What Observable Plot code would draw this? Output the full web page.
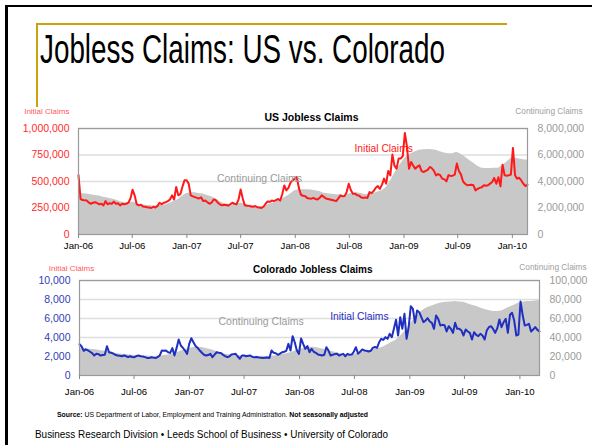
<!DOCTYPE html>
<html><head><meta charset="utf-8">
<script src="https://cdn.jsdelivr.net/npm/d3@7"></script>
<script src="https://cdn.jsdelivr.net/npm/@observablehq/plot@0.6"></script>
<style>
html,body{margin:0;padding:0;background:#fff;}
#page{position:relative;width:592px;height:445px;overflow:hidden;background:#fff;font-family:"Liberation Sans",Arial,sans-serif;}
.abs{position:absolute;white-space:nowrap;transform-origin:0 0;}
</style></head><body>
<div id="page">
  <div class="abs" style="left:5px;top:5px;width:3px;height:440px;background:#000"></div>
  <div class="abs" style="left:5px;top:5px;width:587px;height:2px;background:#000"></div>
  <div class="abs" style="left:36px;top:23px;width:471px;height:2px;background:#c9a20e"></div>
  <div class="abs" style="left:36px;top:23px;width:2px;height:84px;background:#c9a20e"></div>
  <div id="title" class="abs fit" data-w="405" style="left:40px;top:29px;font-size:40px;line-height:40px;color:#000;">Jobless Claims: US vs. Colorado</div>
  <div id="us" class="abs" style="left:0;top:100px"></div>
  <div id="co" class="abs" style="left:0;top:258px"></div>
  <div id="src" class="abs fit" data-w="311" style="left:57px;top:410px;font-size:8px;line-height:10px;color:#000;"><b>Source:</b> US Department of Labor, Employment and Training Administration. <b>Not seasonally adjusted</b></div>
  <div id="foot" class="abs fit" data-w="353" style="left:35px;top:427px;font-size:11px;line-height:14px;color:#000;">Business Research Division • Leeds School of Business • University of Colorado</div>
</div>
<script>
// ---- data (weekly from the week of 1 Jan 2006) ----
const usInitialThousands = [
558,335,325,322,320,300,290,300,305,295,
285,290,275,315,285,295,290,310,290,295,
275,290,285,290,300,340,423,370,285,275,
280,265,262,258,255,250,262,255,270,300,
285,300,305,315,330,369,330,448,370,380,
450,511,511,480,369,360,353,345,340,350,
315,320,305,290,300,331,325,300,285,275,
280,278,272,285,300,290,285,330,425,340,
275,272,270,265,262,268,258,255,250,262,
290,312,308,320,315,325,335,320,380,463,
416,440,489,510,527,542,440,375,365,362,
345,340,338,345,335,331,345,369,355,340,
335,330,325,320,315,340,369,360,362,400,
479,420,385,385,372,365,350,345,350,345,
400,390,410,440,457,430,470,527,480,600,
558,754,650,621,716,716,740,958,830,621,
684,650,621,640,653,600,589,600,610,637,
625,600,558,570,560,527,520,501,560,553,
555,565,669,600,565,500,479,465,468,470,
464,416,430,440,445,464,460,464,480,495,
533,479,540,454,659,558,555,558,565,817,
560,527,535,510,479,457,470];
// every second week, millions
const usContinuingMillions = [
3.05,3.07,3.05,3.0,2.95,2.9,2.82,2.75,2.68,2.6,
2.5,2.4,2.38,2.45,2.35,2.25,2.2,2.18,2.15,2.15,
2.2,2.25,2.35,2.5,2.65,2.9,3.1,3.15,3.15,3.1,
3.05,2.95,2.85,2.7,2.5,2.33,2.28,2.25,2.3,2.38,
2.3,2.22,2.18,2.12,2.08,2.15,2.3,2.39,2.55,2.7,
2.85,3.05,3.3,3.38,3.38,3.37,3.35,3.3,3.25,3.12,
3.07,3.03,3.0,2.98,2.94,3.05,3.12,3.15,3.1,3.0,
3.05,3.1,3.2,3.3,3.55,4.0,4.6,5.1,5.55,5.9,
6.1,6.25,6.35,6.4,6.42,6.4,6.35,6.25,6.15,6.1,
6.1,6.2,6.05,5.85,5.6,5.4,5.15,5.0,4.98,4.98,
5.0,5.0,5.2,5.45,5.75,5.75,5.7,5.65,5.6];
const coInitial = [
3300,3050,2600,2750,2650,2500,2350,2100,2280,2250,
2100,2150,2180,3090,2450,2400,2300,2180,2100,2080,
2030,2100,2050,1930,2030,1950,1930,2050,2100,2030,
2000,1930,1850,1830,1930,1880,1830,1930,2100,2630,
2600,2630,2450,2380,2880,2100,2880,3790,3160,2900,
2630,2280,3330,3930,3500,3100,2900,2630,2400,2180,
2100,2150,2280,1930,2200,2450,2400,2380,2180,2050,
1930,2000,2200,2250,2280,2000,1760,2100,2100,2030,
2080,2100,1950,1930,1940,1900,1880,1850,1880,1900,
1850,2630,2390,2350,2180,2300,2450,2500,2600,3330,
2630,4140,3500,2630,2280,3900,3330,2800,3090,2460,
2800,2500,2390,2200,2150,2100,2180,2980,2630,2100,
2180,2250,2280,2100,2200,2280,2030,2280,2180,2200,
2500,2980,2300,2500,2740,2630,2600,2530,2600,2900,
3000,2900,3500,3860,3750,4035,3860,4386,4035,4912,
5860,4211,6140,4912,6491,3860,5088,7298,7018,5544,
6842,6667,6140,5614,5789,6035,5684,5544,4912,6316,
5965,5263,5333,5300,4632,5193,4912,4491,5544,4912,
4912,4737,4211,4842,4632,4491,3789,4561,4281,4140,
4386,4211,3789,4737,5088,5193,4900,4491,4982,5895,
5088,5614,5965,4491,6386,6596,5789,4211,4300,7789,
6386,5263,5333,5439,4632,4842,5088,4800,4632];
// every second week
const coContinuing = [
29000,28500,28000,27500,27000,26000,25500,25000,24000,23000,
22500,22000,21500,21000,21000,20500,20500,20000,20000,20200,
21000,21500,22500,24000,25500,27000,28500,29500,29800,29500,
28500,27500,26000,24500,23000,22000,21500,21000,20800,20500,
20300,20000,19800,19700,19800,20000,20500,21000,22000,23000,
24000,25500,27000,28500,29500,29800,29500,28500,27500,26500,
25000,24000,23000,22000,22000,22500,23500,24500,25500,26300,
27400,28500,30000,32500,35000,37000,41000,46000,52000,58000,
63000,67500,70500,72500,74000,75500,76500,77000,77500,78000,
77500,77000,75500,74000,73000,71000,69500,68400,67500,67400,
68000,70000,72000,74000,76000,77200,77800,78000,78500,79000];

const xTickLabels = ["Jan-06","Jul-06","Jan-07","Jul-07","Jan-08","Jul-08","Jan-09","Jul-09","Jan-10"];
const usLeftTicks = [0,250000,500000,750000,1000000];
const coLeftTicks = [0,2000,4000,6000,8000,10000];
const usRightFactor = 8;   // 1,000,000 left = 8,000,000 right
const coRightFactor = 10;  // 10,000 left = 100,000 right

// ---- build tables ----
const START = Date.UTC(2006,0,1);
const wk = i => new Date(START + i*7*864e5);
const parseTick = d3.utcParse("%b-%y");
const xTicks = xTickLabels.map(parseTick);
const fmtTick = d3.utcFormat("%b-%y");
const comma = d3.format(",");

const usInit = usInitialThousands.map((v,i)=>({date:wk(i), v:v*1000}));
const usCont = usContinuingMillions.map((v,i)=>({date:wk(2*i), v:v*1e6/usRightFactor}));
const coInit = coInitial.map((v,i)=>({date:wk(i), v}));
const coCont = coContinuing.map((v,i)=>({date:wk(2*i), v:v/coRightFactor}));

const FONT = "'Liberation Sans', Arial, sans-serif";

function chart(o){
  return Plot.plot({
    width:592, height:o.height,
    marginLeft:o.ml, marginRight:o.mr, marginTop:o.mt, marginBottom:o.mb,
    style:{fontFamily:FONT, fontSize:"10px", background:"transparent", overflow:"visible"},
    x:{type:"utc", domain:[o.init[0].date, o.init[o.init.length-1].date]},
    y:{domain:[0, o.ticks[o.ticks.length-1]]},
    marks:[
      Plot.gridY(o.ticks.slice(1), {stroke:"#dedede", strokeOpacity:1, strokeWidth:1.5}),
      Plot.areaY(o.cont, {x:"date", y:"v", fill:"#c8c8c8"}),
      Plot.lineY(o.init, {x:"date", y:"v", stroke:o.lineColor, strokeWidth:2}),
      Plot.frame({stroke:"#9a9a9a", strokeWidth:1.2}),
      Plot.axisY(o.ticks, {anchor:"left", tickSize:0, tickPadding:9, tickFormat:comma, color:o.leftColor, fontSize:10.5, label:null}),
      Plot.axisY(o.ticks, {anchor:"right", tickSize:0, tickPadding:10, tickFormat:d=>comma(d*o.factor), color:"#9a9a9a", fontSize:10.5, label:null}),
      Plot.axisX(xTicks, {anchor:"bottom", tickSize:4, tickPadding:o.xpad, tickFormat:fmtTick, color:"#000", stroke:"#888", fontSize:9.6, label:null}),
      Plot.text([o.title], {frameAnchor:"top", dx:o.titleDx, dy:o.titleDy, lineAnchor:"middle", fontWeight:"bold", fontSize:o.titleSize, fill:"#000"}),
      Plot.text(["Initial Claims"], {frameAnchor:"top-left", textAnchor:"end", dx:o.ilDx, dy:o.ilDy, lineAnchor:"middle", fontSize:8, fill:"#ff5a5a"}),
      Plot.text(["Continuing Claims"], {frameAnchor:"top-right", textAnchor:"middle", dx:o.crDx, dy:o.crDy, lineAnchor:"middle", fontSize:8.3, fill:"#a0a0a0"}),
      Plot.text(["Continuing Claims"], {frameAnchor:"top-left", textAnchor:"start", dx:o.ccDx, dy:o.ccDy, lineAnchor:"middle", fontSize:10.5, fill:"#9a9a9a"}),
      Plot.text(["Initial Claims"], {frameAnchor:"top-left", textAnchor:"start", dx:o.icDx, dy:o.icDy, lineAnchor:"middle", fontSize:10.3, fill:o.lineColor})
    ]
  });
}

document.getElementById("us").append(chart({
  height:155, ml:78, mr:65, mt:28, mb:21, xpad:4,
  init:usInit, cont:usCont, ticks:usLeftTicks, factor:usRightFactor,
  lineColor:"#ff1a1a", leftColor:"#ff2a2a",
  title:"US Jobless Claims", titleSize:10.5, titleDx:8.5, titleDy:-11,
  ilDx:-9, ilDy:-17.5, crDx:21.5, crDy:-17.3,
  ccDx:138.4, ccDy:50.3, icDx:276, icDy:20.3
}));
document.getElementById("co").append(chart({
  height:142, ml:79, mr:53, mt:22, mb:25, xpad:9,
  init:coInit, cont:coCont, ticks:coLeftTicks, factor:coRightFactor,
  lineColor:"#1f2fbf", leftColor:"#3040b8",
  title:"Colorado Jobless Claims", titleSize:10, titleDx:3.2, titleDy:-11,
  ilDx:14.7, ilDy:-11.7, crDx:13.5, crDy:-12.7,
  ccDx:139, ccDy:41, icDx:250.7, icDy:36
}));

// fit headline/footer text widths to the slide
document.querySelectorAll(".fit").forEach(el=>{
  const w = el.getBoundingClientRect().width;
  const target = +el.dataset.w;
  el.style.transform = `scaleX(${target/w})`;
});
</script>
</body></html>
